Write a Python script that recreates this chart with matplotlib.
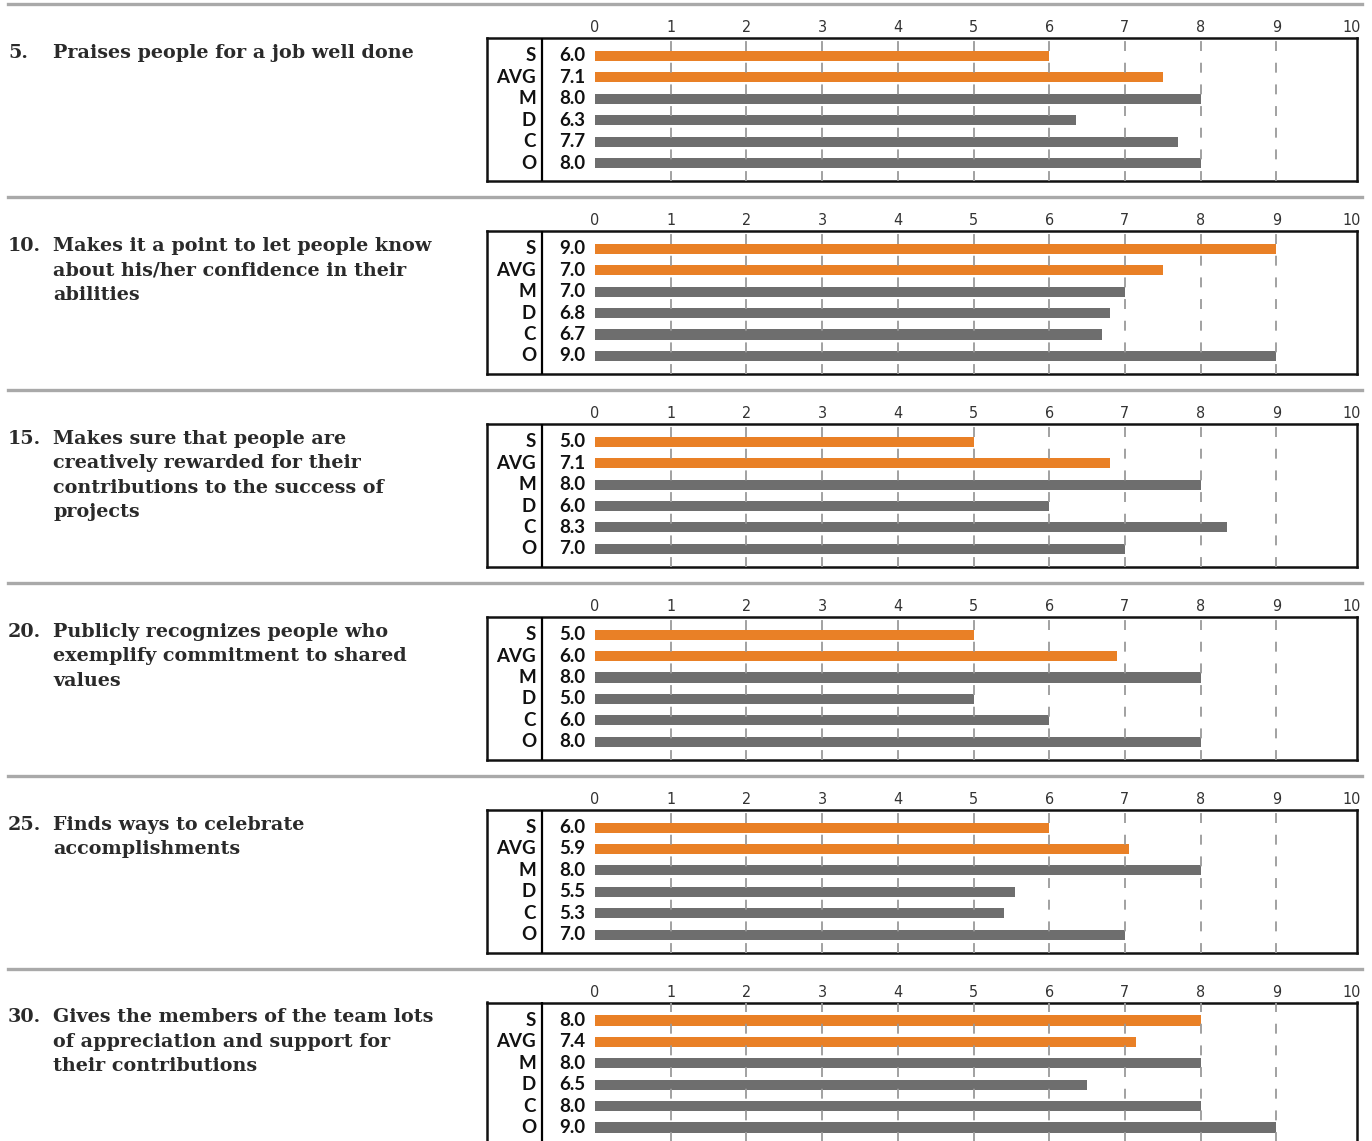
import matplotlib
matplotlib.use("Agg")
import matplotlib.pyplot as plt

# Questions (number, wrapped text)
numbers = ["5.", "10.", "15.", "20.", "25.", "30."]
questions = [
    "Praises people for a job well done",
    "Makes it a point to let people know\nabout his/her confidence in their\nabilities",
    "Makes sure that people are\ncreatively rewarded for their\ncontributions to the success of\nprojects",
    "Publicly recognizes people who\nexemplify commitment to shared\nvalues",
    "Finds ways to celebrate\naccomplishments",
    "Gives the members of the team lots\nof appreciation and support for\ntheir contributions",
]

# Row categories
groups = ["S", "AVG", "M", "D", "C", "O"]

# Printed score labels for each question
score_labels = [
    ["6.0", "7.1", "8.0", "6.3", "7.7", "8.0"],
    ["9.0", "7.0", "7.0", "6.8", "6.7", "9.0"],
    ["5.0", "7.1", "8.0", "6.0", "8.3", "7.0"],
    ["5.0", "6.0", "8.0", "5.0", "6.0", "8.0"],
    ["6.0", "5.9", "8.0", "5.5", "5.3", "7.0"],
    ["8.0", "7.4", "8.0", "6.5", "8.0", "9.0"],
]

# Bar lengths as drawn in the chart
bar_lengths = [
    [6.0, 7.5, 8.0, 6.35, 7.7, 8.0],
    [9.0, 7.5, 7.0, 6.8, 6.7, 9.0],
    [5.0, 6.8, 8.0, 6.0, 8.35, 7.0],
    [5.0, 6.9, 8.0, 5.0, 6.0, 8.0],
    [6.0, 7.05, 8.0, 5.55, 5.4, 7.0],
    [8.0, 7.15, 8.0, 6.5, 8.0, 9.0],
]

ORANGE = "#e98026"
GREY = "#6e6e6e"
W, H = 1372, 1141

fig = plt.figure(figsize=(W / 100, H / 100), dpi=100)


def fx(x):
    return x / W


def fy(y):
    return 1 - y / H


px_per_unit = 75.7
x_zero = 595
box_left, box_right = 487, 1357
xmin = (box_left - x_zero) / px_per_unit
xmax = (box_right - x_zero) / px_per_unit

for i in range(len(questions)):
    sep = 4 + 192.9 * i
    # separator line across the page
    fig.add_artist(plt.Line2D([fx(8), fx(1362)], [fy(sep), fy(sep)],
                              color="#a9a9a9", linewidth=2.4))

    # question text, number and first line share the same top
    top = sep + 40
    fig.text(fx(8), fy(top), numbers[i], fontsize=13.8, family="DejaVu Serif",
             weight="bold", color="#2a2a2a", va="top", ha="left")
    fig.text(fx(53), fy(top), questions[i], fontsize=13.8, family="DejaVu Serif",
             weight="bold", color="#2a2a2a", va="top", ha="left",
             linespacing=1.46)

    box_top = sep + 34
    box_h = 143
    ax = fig.add_axes([fx(box_left), fy(box_top + box_h), (box_right - box_left) / W, box_h / H])
    ax.set_xlim(xmin, xmax)
    ax.set_ylim(5.84, -0.84)

    colors = [ORANGE, ORANGE, GREY, GREY, GREY, GREY]
    ax.barh(range(len(groups)), bar_lengths[i], height=0.47, color=colors, zorder=2)

    for g in range(1, 10):
        ax.axvline(g, color="#9a9a9a", linewidth=1.3, linestyle=(0, (5.5, 6.5)), zorder=3)

    div = (542 - x_zero) / px_per_unit
    ax.axvline(div, color="black", linewidth=1.6, zorder=4)

    for r, (grp, lab) in enumerate(zip(groups, score_labels[i])):
        ax.text((536 - x_zero) / px_per_unit, r, grp, ha="right", va="center",
                fontsize=13.5, family="Lato", weight="bold", color="#111111")
        ax.text((559 - x_zero) / px_per_unit, r, lab, ha="left", va="center",
                fontsize=13.5, family="Lato", weight="bold", color="#111111")

    ax.set_xticks(range(11))
    ax.set_xticklabels([str(t) for t in range(11)], fontsize=11.5,
                       fontstretch="condensed", fontweight="light", color="#333333")
    ax.xaxis.tick_top()
    ax.tick_params(axis="x", length=0, pad=2)
    ax.set_yticks([])
    for s in ax.spines.values():
        s.set_linewidth(1.8)
        s.set_color("#111111")

fig.savefig("out.png", dpi=100)
